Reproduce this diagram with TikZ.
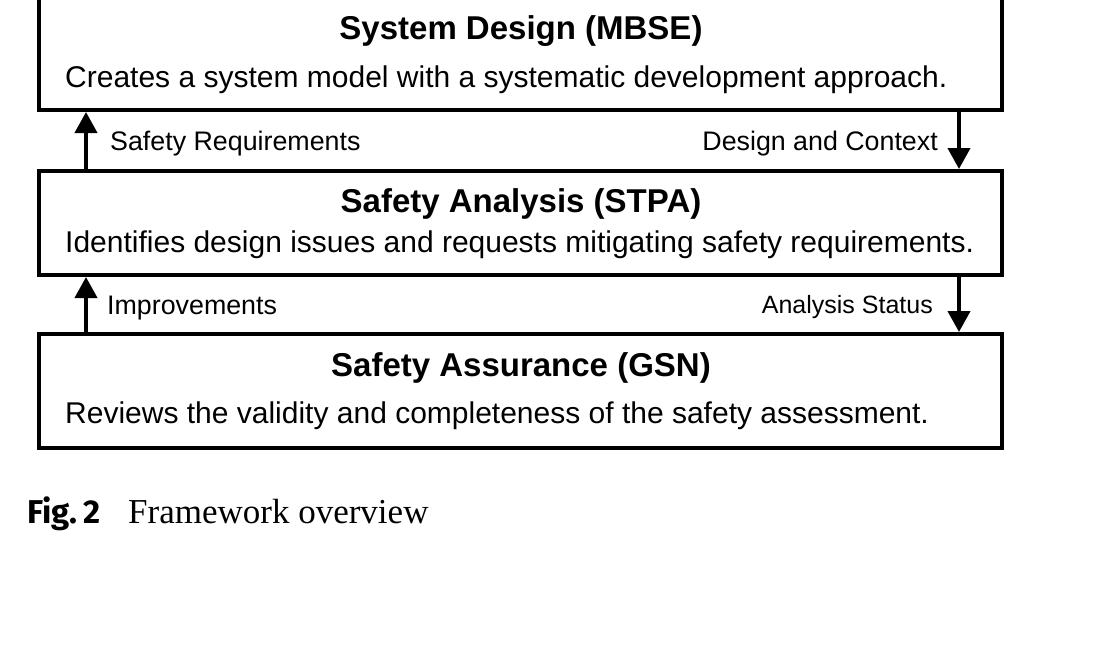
\documentclass[tikz,border=0pt]{standalone}
\usepackage{fontspec}
\setmainfont{Liberation Sans}
\newfontfamily\capsans{Fira Sans}
\newfontfamily\capserif{Liberation Serif}
\usetikzlibrary{arrows.meta}
\tikzset{
  box/.style={draw=black, line width=4pt, rectangle, minimum width=963pt, inner sep=0pt, fill=white},
  ttl/.style={anchor=base, font=\fontsize{33}{38}\selectfont\bfseries, inner sep=0pt},
  sub/.style={anchor=base west, font=\fontsize{30}{36}\selectfont, inner sep=0pt},
  lbl/.style={font=\fontsize{26.8}{32}\selectfont, inner sep=0pt},
  arr/.style={line width=4pt, -{Triangle[width=22pt,length=21pt]}},
}
\begin{document}
\begin{tikzpicture}[x=1pt,y=-1pt]
\useasboundingbox (0,0) rectangle (1104,654);
\fill[white] (0,0) rectangle (1104,654);
\begin{scope}
\clip (0,0) rectangle (1104,654);
\node[box, minimum height=115pt] (b1) at (520.5,52.5) {};
\end{scope}
\node[box, minimum height=104pt] (b2) at (520.5,223) {};
\node[box, minimum height=114pt] (b3) at (520.5,391) {};

\node[ttl] (t1) at (521,39) {System Design (MBSE)};
\node[sub] (s1) at (65,87) {Creates a system model with a systematic development approach.};
\node[ttl] (t2) at (521,212) {Safety Analysis (STPA)};
\node[sub] (s2) at (65,252) {Identifies design issues and requests mitigating safety requirements.};
\node[ttl] (t3) at (521,376) {Safety Assurance (GSN)};
\node[sub] (s3) at (65,423) {Reviews the validity and completeness of the safety assessment.};

\coordinate (lx) at (86,0);
\coordinate (rx) at (959,0);
\draw[arr] (b2.north -| lx) -- (b1.south -| lx);
\draw[arr] (b1.south -| rx) -- (b2.north -| rx);
\draw[arr] (b3.north -| lx) -- (b2.south -| lx);
\draw[arr] (b2.south -| rx) -- (b3.north -| rx);

\node[lbl, anchor=base west] (l1) at (110,150) {Safety Requirements};
\node[lbl, anchor=base east] (l2) at (938,150) {Design and Context};
\node[lbl, anchor=base west] (l3) at (107,314) {Improvements};
\node[lbl, anchor=base east, font=\fontsize{25}{30}\selectfont] (l4) at (933,313) {Analysis Status};

\node[anchor=base west, inner sep=0pt, font=\capsans\bfseries\fontsize{33}{38}\selectfont] (c1) at (27,523) {Fig.\,2};
\node[anchor=base west, inner sep=0pt, font=\capserif\fontsize{35}{40}\selectfont] (c2) at (128,523) {Framework overview};
\end{tikzpicture}
\end{document}
